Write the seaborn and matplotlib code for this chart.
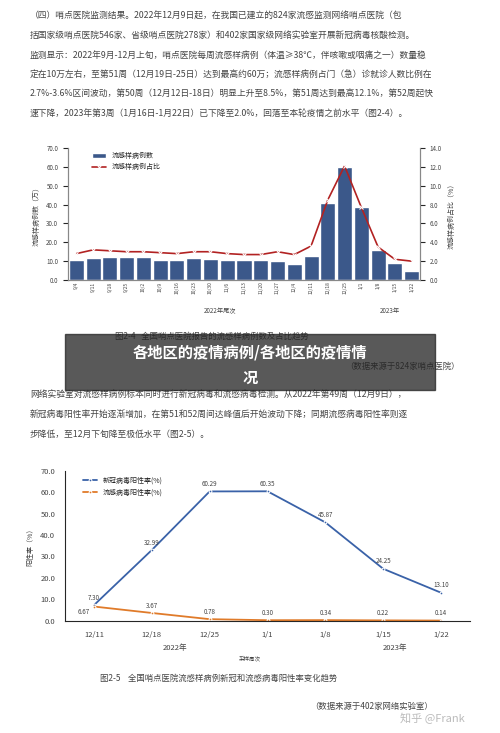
import matplotlib
matplotlib.use("Agg")
import matplotlib.pyplot as plt
import seaborn as sns
import pandas as pd
import numpy as np

sns.set_style("white")
plt.rcParams['font.family'] = ['Noto Sans CJK SC', 'DejaVu Sans']

weeks = ["9/4","9/11","9/18","9/25","10/2","10/9","10/16","10/23","10/30","11/6","11/13",
         "11/20","11/27","12/4","12/11","12/18","12/25","1/1","1/8","1/15","1/22"]
ili_cases = [10.5,11.5,12,12,12,10.5,10.5,11.5,11,10.5,10.5,10.5,10,8.5,13,41,60,38.5,16,9,5]
ili_ratio = [2.8,3.2,3.1,3.0,3.0,2.9,2.8,3.0,3.0,2.8,2.7,2.7,3.0,2.7,3.6,8.5,12.1,7.7,3.5,2.2,2.0]

weeks2 = ["12/11","12/18","12/25","1/1","1/8","1/15","1/22"]
covid_pos = [7.30,32.99,60.29,60.35,45.87,24.25,13.10]
flu_pos = [6.67,3.67,0.78,0.30,0.34,0.22,0.14]

fig = plt.figure(figsize=(5, 7.33), dpi=100)
tc = "#444444"
top_lines = [
 "（四）哨点医院监测结果。2022年12月9日起，在我国已建立的824家流感监测网络哨点医院（包",
 "括国家级哨点医院546家、省级哨点医院278家）和402家国家级网络实验室开展新冠病毒核酸检测。",
 "监测显示：2022年9月-12月上旬，哨点医院每周流感样病例（体温≥38℃，伴咳嗽或咽痛之一）数量稳",
 "定在10万左右，至第51周（12月19日-25日）达到最高约60万；流感样病例占门（急）诊就诊人数比例在",
 "2.7%-3.6%区间波动，第50周（12月12日-18日）明显上升至8.5%，第51周达到最高12.1%，第52周起快",
 "速下降，2023年第3周（1月16日-1月22日）已下降至2.0%，回落至本轮疫情之前水平（图2-4）。",
]
for i, t in enumerate(top_lines):
    fig.text(0.06, 1 - (16 + i * 19.5) / 733, t, fontsize=6.3, color=tc, va="center")

# chart 1
ax1 = fig.add_axes([0.136, 0.618, 0.704, 0.18])
df1 = pd.DataFrame({"week": weeks, "cases": ili_cases, "ratio": ili_ratio})
sns.barplot(data=df1, x="week", y="cases", color="#2e5597", width=0.9, ax=ax1, label="流感样病例数")
ax1.set_ylim(0, 70)
ax1.set_yticks(np.arange(0, 71, 10))
ax1.set_yticklabels([f"{v:.1f}" for v in range(0, 71, 10)], fontsize=4.5, color=tc)
ax1.set_xticks(range(len(weeks)))
ax1.set_xticklabels(weeks, rotation=90, fontsize=3.5, color=tc)
ax1.tick_params(axis="x", pad=1, length=0)
ax1.set_xlabel(""); ax1.set_ylabel("流感样病例数（万）", fontsize=5, color=tc, rotation=90, labelpad=4)
ax1b = ax1.twinx()
sns.lineplot(x=np.arange(len(weeks)), y=ili_ratio, color="#b22222", marker="x", markersize=3,
             linewidth=1.2, ax=ax1b, label="流感样病例占比", legend=False)
ax1b.set_ylim(0, 14)
ax1b.set_yticks(np.arange(0, 15, 2))
ax1b.set_yticklabels([f"{v:.1f}" for v in range(0, 15, 2)], fontsize=4.5, color=tc)
ax1b.set_ylabel("流感样病例占比（%）", fontsize=5, color=tc, labelpad=4)
for a in (ax1, ax1b):
    a.spines["top"].set_visible(False)
    for s in ("left", "right", "bottom"):
        a.spines[s].set_color("#888")
ax1.set_xlim(-0.5, len(weeks) - 0.5)
h1, l1 = ax1.get_legend_handles_labels(); h2, l2 = ax1b.get_legend_handles_labels()
ax1.legend(h1 + h2, l1 + l2, loc="upper left", bbox_to_anchor=(0.05, 1.02), fontsize=5, frameon=False)
fig.text(0.44, 1 - 311 / 733, "2022年尾次", fontsize=4.5, color=tc, ha="center", va="center")
fig.text(0.78, 1 - 311 / 733, "2023年", fontsize=4.5, color=tc, ha="center", va="center")

fig.text(0.23, 1 - 336 / 733, "图2-4   全国哨点医院报告的流感样病例数及占比趋势", fontsize=6, color=tc, va="center")
fig.text(0.69, 1 - 366 / 733, "（数据来源于824家哨点医院）", fontsize=6, color=tc, va="center")

fig.patches.append(plt.Rectangle((0.13, 1 - 390 / 733), 0.74, 56 / 733, transform=fig.transFigure,
                                 color="#222222", alpha=0.75, zorder=5))
fig.text(0.5, 1 - 352 / 733, "各地区的疫情病例/各地区的疫情情", fontsize=11, color="white",
         fontweight="bold", ha="center", va="center", zorder=6)
fig.text(0.5, 1 - 378 / 733, "况", fontsize=11, color="white", fontweight="bold", ha="center", va="center", zorder=6)

mid = ["网络实验室对流感样病例标本同时进行新冠病毒和流感病毒检测。从2022年第49周（12月9日），",
       "新冠病毒阳性率开始逐渐增加，在第51和52周间达峰值后开始波动下降；同期流感病毒阳性率则逐",
       "步降低，至12月下旬降至极低水平（图2-5）。"]
for i, t in enumerate(mid):
    fig.text(0.06, 1 - (394 + i * 20) / 733, t, fontsize=6.3, color=tc, va="center")

# chart 2
ax2 = fig.add_axes([0.13, 0.153, 0.81, 0.205])
x2 = np.arange(len(weeks2))
sns.lineplot(x=x2, y=covid_pos, color="#3a62a8", linewidth=1.3, marker="o", markersize=2,
             ax=ax2, label="新冠病毒阳性率(%)")
sns.lineplot(x=x2, y=flu_pos, color="#e07b2a", linewidth=1.3, marker="o", markersize=2,
             ax=ax2, label="流感病毒阳性率(%)")
for xi, v in zip(x2, covid_pos):
    ax2.text(xi, v + 2.5, f"{v:.2f}", fontsize=4.5, color=tc, ha="center")
for xi, v in zip(x2, flu_pos):
    if xi == 0:
        ax2.text(xi - 0.08, v - 3.5, f"{v:.2f}", fontsize=4.5, color=tc, ha="right")
    else:
        ax2.text(xi, v + 2.5, f"{v:.2f}", fontsize=4.5, color=tc, ha="center")
ax2.set_ylim(0, 70)
ax2.set_yticks(np.arange(0, 71, 10))
ax2.set_yticklabels([f"{v:.1f}" for v in range(0, 71, 10)], fontsize=5.5, color=tc)
ax2.set_xlim(-0.5, len(weeks2) - 0.5)
ax2.set_xticks(x2)
ax2.set_xticklabels(weeks2, fontsize=5.5, color=tc)
ax2.set_ylabel("阳性率（%）", fontsize=5, color=tc)
for s in ("top", "right"):
    ax2.spines[s].set_visible(False)
ax2.legend(loc="upper left", bbox_to_anchor=(0.03, 1.0), fontsize=5, frameon=False)
fig.text(0.35, 1 - 650 / 733, "2022年", fontsize=5.5, color=tc, ha="center")
fig.text(0.79, 1 - 650 / 733, "2023年", fontsize=5.5, color=tc, ha="center")
fig.text(0.5, 1 - 660 / 733, "采样周次", fontsize=4, color=tc, ha="center")

fig.text(0.2, 1 - 678 / 733, "图2-5    全国哨点医院流感样病例新冠和流感病毒阳性率变化趋势", fontsize=6, color=tc, va="center")
fig.text(0.62, 1 - 706 / 733, "（数据来源于402家网络实验室）", fontsize=6, color=tc, va="center")
fig.text(0.8, 1 - 718 / 733, "知乎 @Frank", fontsize=8, color="#bbbbbb", va="center")

fig.savefig("out.png", dpi=100)
